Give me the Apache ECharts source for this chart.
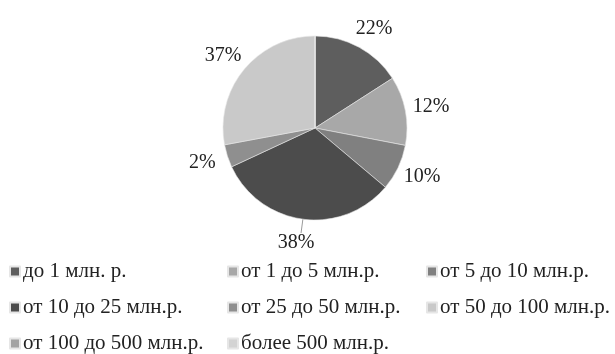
<!DOCTYPE html>
<html><head><meta charset="utf-8">
<script src="https://cdn.jsdelivr.net/npm/echarts@6/dist/echarts.min.js"></script>
<style>html,body{margin:0;padding:0;background:#fff}#c{width:615px;height:354px}</style>
</head><body><div id="c"></div>
<script>
const categories = ['до 1 млн. р.','от 1 до 5 млн.р.','от 5 до 10 млн.р.','от 10 до 25 млн.р.','от 25 до 50 млн.р.','от 50 до 100 млн.р.','от 100 до 500 млн.р.','более 500 млн.р.'];
// slice shares as drawn (angle of each sector)
const values = [15.9, 12.1, 8.1, 31.9, 4.0, 27.9, 0, 0];
// percentage texts printed on the chart
const labelTexts = ['22%','12%','10%','38%','2%','37%','',''];
const colors = ['#5e5e5e','#a8a8a8','#808080','#4c4c4c','#8f8f8f','#c9c9c9','#a3a3a3','#d3d3d3'];
const legendCols = [
  ['до 1 млн. р.','от 10 до 25 млн.р.','от 100 до 500 млн.р.'],
  ['от 1 до 5 млн.р.','от 25 до 50 млн.р.','более 500 млн.р.'],
  ['от 5 до 10 млн.р.','от 50 до 100 млн.р.']
];
const legendLeft = [9, 227, 426];

const font = 'Liberation Serif, Times New Roman, serif';
const data = categories.map((name, i) => {
  const d = {name, value: values[i], itemStyle: {color: colors[i]}};
  if (!labelTexts[i]) { d.label = {show: false}; d.labelLine = {show: false}; }
  if (i === 3) { d.labelLine = {show: true, length: 14, length2: 0, lineStyle: {color: '#9a9a9a', width: 1}}; }
  return d;
});

const chart = echarts.init(document.getElementById('c'));
chart.setOption({
  animation: false,
  legend: legendCols.map((col, k) => ({
    orient: 'vertical', left: legendLeft[k], top: 261, itemGap: 15, padding: 0,
    itemWidth: 10, itemHeight: 10, icon: 'rect', selectedMode: false,
    data: col,
    textStyle: {fontFamily: font, fontSize: 21, color: '#222', padding: [0,0,0,-2]}
  })),
  series: [{
    type: 'pie',
    center: [315, 128],
    radius: 92,
    startAngle: 90,
    clockwise: true,
    avoidLabelOverlap: false,
    itemStyle: {borderColor: '#e6e6e6', borderWidth: 0.6},
    label: {
      show: true, position: 'outside', fontFamily: font, fontSize: 20, color: '#222',
      formatter: p => labelTexts[p.dataIndex]
    },
    labelLine: {show: false, length: 21, length2: 0},
    labelLayout: function (p) {
      if (p.dataIndex === 3) return {align: 'center', verticalAlign: 'top'};
      return {align: 'center', verticalAlign: 'middle'};
    },
    data: data
  }]
});
</script></body></html>
